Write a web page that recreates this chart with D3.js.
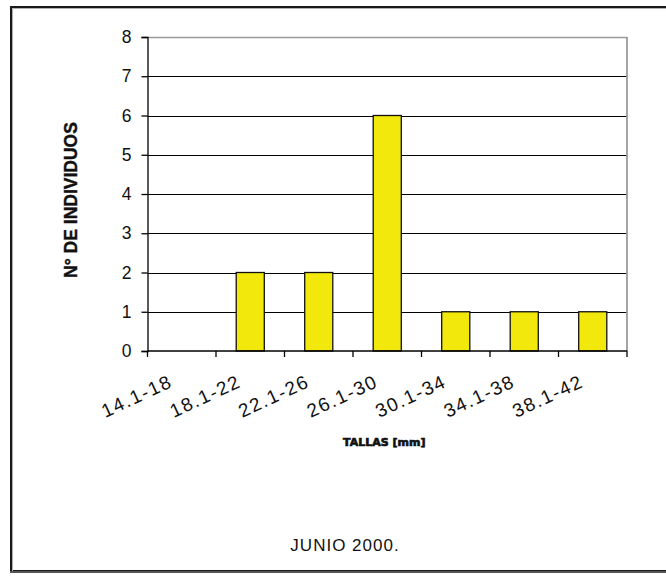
<!DOCTYPE html>
<html>
<head>
<meta charset="utf-8">
<script src="https://cdn.jsdelivr.net/npm/d3@7"></script>
<style>
  html, body { margin: 0; padding: 0; background: #fff; }
  svg { display: block; }
</style>
</head>
<body>
<svg id="chart" width="666" height="577"></svg>
<script>
// Size classes (mm) and number of individuals per class
const categories = ["14.1-18", "18.1-22", "22.1-26", "26.1-30", "30.1-34", "34.1-38", "38.1-42"];
const counts = [0, 2, 2, 6, 1, 1, 1];
const yTicks = [0, 1, 2, 3, 4, 5, 6, 7, 8];
const yTitle = "N° DE INDIVIDUOS";
const xTitle = "TALLAS [mm]";
const caption = "JUNIO 2000.";

const svg = d3.select("#chart");
const W = 666, H = 577;
const plot = { left: 147.5, right: 627, top: 37, bottom: 351 };

svg.append("rect").attr("width", W).attr("height", H).attr("fill", "#fff");

// outer frame (runs off the right edge)
svg.append("rect")
  .attr("x", 11).attr("y", 7).attr("width", 700).attr("height", 564)
  .attr("fill", "none").attr("stroke", "#1a1a1a").attr("stroke-width", 2);
svg.append("path")
  .attr("d", "M12.5,571 V8.5 H700")
  .attr("fill", "none").attr("stroke", "#b0b0b0").attr("stroke-width", 1);
svg.append("line")
  .attr("x1", 10).attr("x2", 700).attr("y1", 572).attr("y2", 572)
  .attr("stroke", "#555").attr("stroke-width", 2);

const x = d3.scaleBand().domain(categories).range([plot.left, plot.right]).padding(0);
const y = d3.scaleLinear().domain([0, 8]).range([plot.bottom, plot.top]);

// horizontal gridlines
svg.append("g").selectAll("line")
  .data(yTicks.filter(t => t > 0))
  .join("line")
  .attr("x1", plot.left).attr("x2", plot.right)
  .attr("y1", d => Math.round(y(d)) + 0.5).attr("y2", d => Math.round(y(d)) + 0.5)
  .attr("stroke", d => d === 8 ? "#9a9a9a" : "#000")
  .attr("stroke-width", d => d === 8 ? 1.5 : 1.2);

// right border of plot area
svg.append("line")
  .attr("x1", plot.right).attr("x2", plot.right)
  .attr("y1", plot.top).attr("y2", plot.bottom)
  .attr("stroke", "#9a9a9a").attr("stroke-width", 1.8);

// bars
const barW = x.bandwidth() * 0.41;
svg.append("g").selectAll("rect")
  .data(categories.map((c, i) => ({ c, v: counts[i] })).filter(d => d.v > 0))
  .join("rect")
  .attr("x", d => x(d.c) + x.bandwidth() / 2 - barW / 2)
  .attr("y", d => y(d.v))
  .attr("width", barW)
  .attr("height", d => y(0) - y(d.v))
  .attr("fill", "#f2e80c")
  .attr("stroke", "#111").attr("stroke-width", 1.3);

// y axis
const yAxis = d3.axisLeft(y).tickValues(yTicks).tickSize(6).tickPadding(10).tickFormat(d3.format("d"));
const gy = svg.append("g").attr("transform", `translate(${plot.left},0)`).call(yAxis);
gy.select(".domain").attr("stroke", "#000").attr("stroke-width", 1.3);
gy.selectAll(".tick line").attr("stroke", "#000").attr("stroke-width", 1.3);
gy.selectAll(".tick text")
  .attr("font-family", "'Liberation Sans', Arial, sans-serif")
  .attr("font-size", 17.5).attr("fill", "#111");

// x axis: tick marks on category boundaries
svg.append("line")
  .attr("x1", plot.left).attr("x2", plot.right)
  .attr("y1", plot.bottom).attr("y2", plot.bottom)
  .attr("stroke", "#000").attr("stroke-width", 1.5);
const bounds = categories.map(c => x(c)).concat([x(categories[categories.length - 1]) + x.bandwidth()]);
svg.append("g").selectAll("line")
  .data(bounds)
  .join("line")
  .attr("x1", d => d).attr("x2", d => d)
  .attr("y1", plot.bottom).attr("y2", plot.bottom + 6)
  .attr("stroke", "#000").attr("stroke-width", 1.3);

// rotated category labels
svg.append("g").selectAll("text")
  .data(categories)
  .join("text")
  .attr("transform", d => `translate(${x(d) + x.bandwidth() / 2 - 8},386) rotate(-25)`)
  .attr("text-anchor", "end")
  .attr("font-family", "'Liberation Sans', Arial, sans-serif")
  .attr("font-size", 19)
  .attr("letter-spacing", 1.6)
  .attr("fill", "#111")
  .text(d => d);

// axis titles
svg.append("text")
  .attr("transform", `translate(77,200) rotate(-90)`)
  .attr("text-anchor", "middle")
  .attr("font-family", "'Liberation Sans', Arial, sans-serif")
  .attr("font-weight", "bold")
  .attr("font-size", 17.5)
  .attr("stroke", "#111").attr("stroke-width", 0.4)
  .attr("fill", "#111")
  .text(yTitle);

svg.append("text")
  .attr("x", (plot.left + plot.right) / 2 - 3).attr("y", 446)
  .attr("text-anchor", "middle")
  .attr("font-family", "'DejaVu Sans', sans-serif")
  .attr("font-weight", "bold")
  .attr("font-size", 11)
  .attr("stroke", "#111").attr("stroke-width", 0.7)
  .attr("fill", "#111")
  .text(xTitle);

svg.append("text")
  .attr("x", 345).attr("y", 551)
  .attr("text-anchor", "middle")
  .attr("font-family", "'Liberation Sans', Arial, sans-serif")
  .attr("font-size", 17)
  .attr("letter-spacing", 1)
  .attr("fill", "#111")
  .text(caption);
</script>
</body>
</html>
